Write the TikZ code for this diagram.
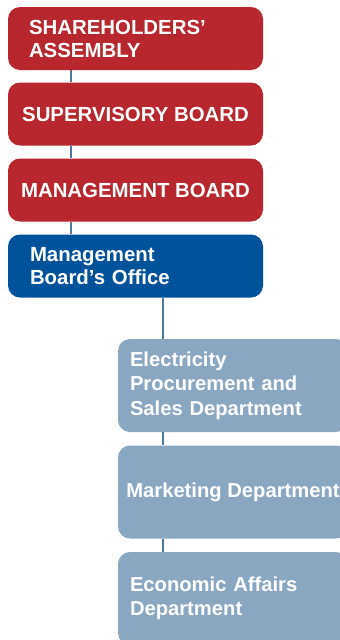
\documentclass[tikz,border=0pt]{standalone}
\usepackage{fontspec}
\setmainfont{Liberation Sans}
\usepackage{tikz}
\usetikzlibrary{positioning}
\definecolor{boardred}{RGB}{184,38,46}
\definecolor{officeblue}{RGB}{0,83,155}
\definecolor{deptblue}{RGB}{138,167,194}
\definecolor{linkblue}{RGB}{74,122,160}

\begin{document}
\begin{tikzpicture}[x=1pt,y=-1pt]
\tikzstyle{every node}=[text=white,font=\bfseries]
\tikzstyle{board}=[rectangle,rounded corners=12pt,fill=boardred,minimum width=255pt,minimum height=63pt,inner xsep=0pt,font=\bfseries\fontsize{20.4}{23}\selectfont]
\tikzstyle{office}=[board,fill=officeblue,text width=211pt,align=left]
\tikzstyle{dept}=[rectangle,rounded corners=12pt,fill=deptblue,minimum width=230pt,minimum height=93pt,inner xsep=0pt,font=\bfseries\fontsize{20.2}{24.5}\selectfont]
\tikzstyle{link}=[draw=linkblue,line width=2.6pt]
\useasboundingbox (0,0) rectangle (340,640);
\coordinate (trunk) at (71,0);
\coordinate (branch) at (163,0);
% governing bodies
\node[board,text width=213pt,align=left] (sa) at (135.5,38.5) {SHAREHOLDERS'\\ASSEMBLY};
\node[board] (sb) at (135.5,114) {SUPERVISORY BOARD};
\node[board] (mb) at (135.5,190) {MANAGEMENT BOARD};
\node[office] (mbo) at (135.5,266) {Management\\Board's Office};
% departments
\node[dept,text width=206pt,align=left] (eps) at (233,385.5) {Electricity\\Procurement and\\Sales Department};
\node[dept] (mkt) at (233,492) {Marketing Department};
\node[dept,text width=206pt,align=left] (eco) at (233,598.5) {Economic Affairs\\Department};
\draw[link] (sa.south -| trunk) -- (sb.north -| trunk);
\draw[link] (sb.south -| trunk) -- (mb.north -| trunk);
\draw[link] (mb.south -| trunk) -- (mbo.north -| trunk);
\draw[link] (mbo.south -| branch) -- (eps.north -| branch);
\draw[link] (eps.south -| branch) -- (mkt.north -| branch);
\draw[link] (mkt.south -| branch) -- (eco.north -| branch);
\end{tikzpicture}
\end{document}
